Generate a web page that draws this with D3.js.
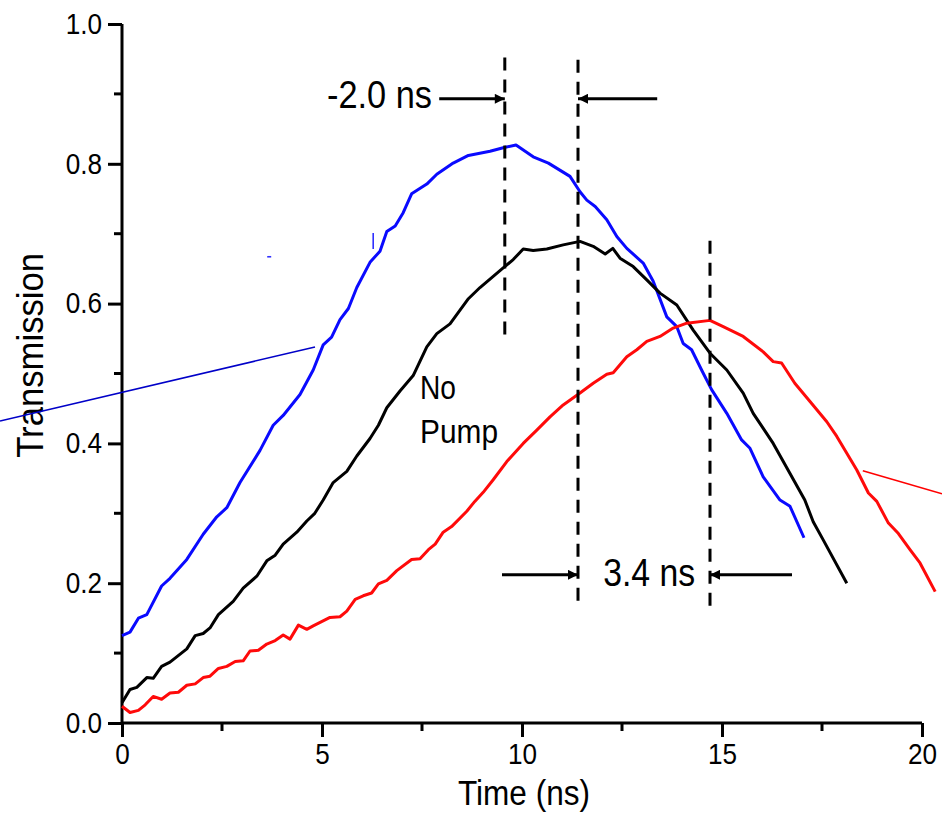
<!DOCTYPE html>
<html>
<head>
<meta charset="utf-8">
<script src="https://cdn.jsdelivr.net/npm/d3@7"></script>
<style>
  html, body { margin: 0; padding: 0; background: #fff; }
  svg { display: block; }
  text { font-family: "Liberation Sans", Arial, Helvetica, sans-serif; fill: #000; }
</style>
</head>
<body>
<svg id="chart" width="942" height="814"></svg>
<script>
// ---------- data (time in ns, transmission) ----------
const pumpBlue = [[0,0.125],[0.2,0.13],[0.41,0.15],[0.62,0.155],[0.99,0.196],[1.2,0.207],[1.62,0.234],[2.03,0.27],[2.37,0.295],[2.62,0.308],[2.95,0.344],[3.45,0.39],[3.78,0.426],[4.03,0.44],[4.45,0.47],[4.78,0.505],[5.03,0.541],[5.24,0.552],[5.45,0.577],[5.66,0.593],[5.87,0.623],[6.2,0.659],[6.45,0.675],[6.62,0.703],[6.83,0.711],[7.03,0.73],[7.24,0.757],[7.62,0.771],[7.87,0.785],[8.28,0.801],[8.66,0.812],[9.2,0.818],[9.53,0.823],[9.85,0.827],[10.28,0.81],[10.66,0.801],[11.2,0.782],[11.45,0.76],[11.62,0.748],[11.83,0.739],[12.12,0.72],[12.37,0.696],[12.62,0.679],[13.03,0.658],[13.28,0.632],[13.62,0.581],[13.87,0.567],[14.03,0.543],[14.24,0.534],[14.49,0.505],[14.74,0.477],[15.12,0.443],[15.49,0.405],[15.7,0.393],[16.03,0.352],[16.45,0.319],[16.7,0.31],[17.05,0.265]];

const noPump = [[0,0.029],[0.2,0.048],[0.37,0.051],[0.62,0.065],[0.78,0.064],[0.99,0.081],[1.2,0.087],[1.62,0.106],[1.83,0.125],[2.03,0.128],[2.2,0.136],[2.41,0.155],[2.78,0.174],[3.03,0.193],[3.37,0.21],[3.62,0.232],[3.83,0.24],[4.03,0.256],[4.37,0.273],[4.62,0.289],[4.82,0.3],[5.03,0.319],[5.28,0.344],[5.62,0.36],[5.87,0.382],[6.2,0.407],[6.41,0.426],[6.62,0.451],[6.95,0.475],[7.28,0.497],[7.62,0.538],[7.87,0.557],[8.2,0.571],[8.66,0.607],[8.95,0.623],[9.53,0.651],[9.78,0.663],[10.03,0.678],[10.28,0.676],[10.62,0.678],[11.03,0.684],[11.45,0.689],[11.78,0.682],[12.08,0.671],[12.27,0.679],[12.45,0.665],[12.78,0.653],[13.12,0.634],[13.45,0.615],[13.87,0.598],[14.28,0.562],[14.7,0.529],[15.12,0.505],[15.53,0.472],[15.78,0.443],[16.28,0.4],[16.7,0.357],[17.07,0.319],[17.28,0.288],[17.53,0.262],[18.12,0.2]];

const pumpRed = [[0,0.024],[0.2,0.015],[0.41,0.018],[0.58,0.026],[0.78,0.038],[0.99,0.034],[1.2,0.043],[1.41,0.044],[1.62,0.054],[1.83,0.056],[2.03,0.065],[2.2,0.067],[2.41,0.078],[2.62,0.081],[2.83,0.088],[3.03,0.089],[3.2,0.103],[3.41,0.104],[3.62,0.113],[3.83,0.118],[4.03,0.126],[4.2,0.12],[4.41,0.14],[4.62,0.134],[4.78,0.139],[5.2,0.151],[5.45,0.152],[5.62,0.16],[5.83,0.177],[6.03,0.182],[6.24,0.186],[6.41,0.199],[6.62,0.204],[6.87,0.218],[7.24,0.234],[7.45,0.235],[7.66,0.248],[7.83,0.256],[8.03,0.273],[8.24,0.281],[8.62,0.303],[8.82,0.317],[9.03,0.33],[9.28,0.348],[9.62,0.374],[10.03,0.4],[10.37,0.419],[10.7,0.438],[11.03,0.455],[11.45,0.472],[11.78,0.486],[12.12,0.499],[12.28,0.501],[12.62,0.524],[12.87,0.534],[13.12,0.546],[13.45,0.553],[13.78,0.565],[14.12,0.572],[14.7,0.576],[15.03,0.567],[15.53,0.553],[16.03,0.531],[16.28,0.517],[16.49,0.515],[16.82,0.486],[17.2,0.46],[17.62,0.431],[17.87,0.41],[18.37,0.362],[18.66,0.329],[18.87,0.317],[19.16,0.286],[19.41,0.271],[19.7,0.248],[19.95,0.229],[20.33,0.188]];

const xTicks = [0, 5, 10, 15, 20];
const xMinorTicks = [2.5, 7.5, 12.5, 17.5];
const yTicks = [0.0, 0.2, 0.4, 0.6, 0.8, 1.0];
const yMinorTicks = [0.1, 0.3, 0.5, 0.7, 0.9];

// peak markers (dashed verticals): time, y from, y to
const peakMarkers = [[9.57, 0.952, 0.548], [11.4, 0.949, 0.166], [14.7, 0.69, 0.159]];
// arrows: [t start, t end (head), y]
const arrows = [[7.93, 9.57, 0.893], [13.38, 11.4, 0.893], [9.5, 11.4, 0.212], [16.75, 14.7, 0.212]];
const delayLabels = [{text: "-2.0 ns", t: 5.125, y: 0.88, w: 105}, {text: "3.4 ns", t: 12.03, y: 0.196, w: 92}];
const curveLabel = ["No", "Pump"];
// thin leader lines [t1,y1,t2,y2,color]
const leaders = [[-3.05, 0.432, 4.825, 0.538, "#0000c8"], [18.52, 0.361, 20.5, 0.328, "#ff0000"], [6.28, 0.701, 6.28, 0.678, "#3030ff"], [3.63, 0.667, 3.73, 0.667, "#3030ff"]];

// ---------- layout ----------
const svg = d3.select("#chart");
const x = d3.scaleLinear().domain([0, 20]).range([122, 922]);
const y = d3.scaleLinear().domain([0, 1]).range([723, 24]);
const SQ = 0.9; // horizontal condensing of the original lettering

function condense(sel, factor) {
  sel.each(function() {
    const len = this.getComputedTextLength();
    d3.select(this).attr("textLength", len * (factor || SQ)).attr("lengthAdjust", "spacingAndGlyphs");
  });
}

// axes
const gx = svg.append("g").attr("transform", `translate(0,${y(0)})`);
gx.call(d3.axisBottom(x).tickValues(xTicks).tickSize(14).tickPadding(6).tickFormat(d3.format("d")));
gx.append("g").selectAll("line").data(xMinorTicks).join("line")
  .attr("x1", d => x(d)).attr("x2", d => x(d)).attr("y1", 0).attr("y2", 8)
  .attr("stroke", "#000").attr("stroke-width", 3);

const gy = svg.append("g").attr("transform", `translate(${x(0)},0)`);
gy.call(d3.axisLeft(y).tickValues(yTicks).tickSize(14).tickPadding(6).tickFormat(d3.format(".1f")));
gy.append("g").selectAll("line").data(yMinorTicks).join("line")
  .attr("x1", 0).attr("x2", -8).attr("y1", d => y(d)).attr("y2", d => y(d))
  .attr("stroke", "#000").attr("stroke-width", 3);

[gx, gy].forEach(g => {
  g.select(".domain").attr("stroke", "#000").attr("stroke-width", 3);
  g.selectAll(".tick line").attr("stroke", "#000").attr("stroke-width", 3);
  g.selectAll(".tick text").attr("font-size", 29).attr("fill", "#000")
    .attr("font-family", "Liberation Sans, Arial, sans-serif");
});
gx.select(".domain").attr("d", `M${x(0)},0H${x(20)}`);
gy.select(".domain").attr("d", `M0,${y(0)}V${y(1)}`);
condense(gx.selectAll(".tick text"));
condense(gy.selectAll(".tick text"));

// axis titles
const xt = svg.append("text").attr("x", x(10.05)).attr("y", 805).attr("text-anchor", "middle")
  .attr("font-size", 35).text("Time (ns)")
  .attr("textLength", 132).attr("lengthAdjust", "spacingAndGlyphs");
const yt = svg.append("text").attr("transform", `translate(43,${y(0.526)}) rotate(-90)`)
  .attr("text-anchor", "middle").attr("font-size", 36).text("Transmission")
  .attr("textLength", 205).attr("lengthAdjust", "spacingAndGlyphs");

// thin leader lines
svg.append("g").selectAll("line").data(leaders).join("line")
  .attr("x1", d => x(d[0])).attr("y1", d => y(d[1]))
  .attr("x2", d => x(d[2])).attr("y2", d => y(d[3]))
  .attr("stroke", d => d[4]).attr("stroke-width", 1.6);

// curves
const line = d3.line().x(d => x(d[0])).y(d => y(d[1]));
const series = [[pumpBlue, "#0a0aff"], [noPump, "#000000"], [pumpRed, "#ff0a0a"]];
svg.append("g").selectAll("path").data(series).join("path")
  .attr("d", d => line(d[0])).attr("fill", "none")
  .attr("stroke", d => d[1]).attr("stroke-width", 3).attr("stroke-linejoin", "round");

// dashed peak markers
svg.append("g").selectAll("line").data(peakMarkers).join("line")
  .attr("x1", d => x(d[0])).attr("x2", d => x(d[0]))
  .attr("y1", d => y(d[1])).attr("y2", d => y(d[2]))
  .attr("stroke", "#000").attr("stroke-width", 3).attr("stroke-dasharray", "13,9");

// arrows
svg.append("defs").append("marker").attr("id", "head")
  .attr("viewBox", "0 0 10 10").attr("refX", 10).attr("refY", 5)
  .attr("markerWidth", 14).attr("markerHeight", 10).attr("markerUnits", "userSpaceOnUse")
  .attr("orient", "auto")
  .append("path").attr("d", "M0,0L10,5L0,10Z").attr("fill", "#000");
svg.append("g").selectAll("line").data(arrows).join("line")
  .attr("x1", d => x(d[0])).attr("x2", d => x(d[1]))
  .attr("y1", d => y(d[2])).attr("y2", d => y(d[2]))
  .attr("stroke", "#000").attr("stroke-width", 3).attr("marker-end", "url(#head)");

// delay labels
svg.append("g").selectAll("text").data(delayLabels).join("text")
  .attr("x", d => x(d.t)).attr("y", d => y(d.y))
  .attr("font-size", 39).text(d => d.text)
  .attr("textLength", d => d.w).attr("lengthAdjust", "spacingAndGlyphs");

// curve label
const cl = svg.append("text").attr("font-size", 33);
cl.selectAll("tspan").data(curveLabel).join("tspan")
  .attr("x", x(7.45)).attr("y", (d, i) => y(i === 0 ? 0.463 : 0.4))
  .text(d => d)
  .attr("textLength", (d, i) => i === 0 ? 36 : 78).attr("lengthAdjust", "spacingAndGlyphs");
</script>
</body>
</html>
